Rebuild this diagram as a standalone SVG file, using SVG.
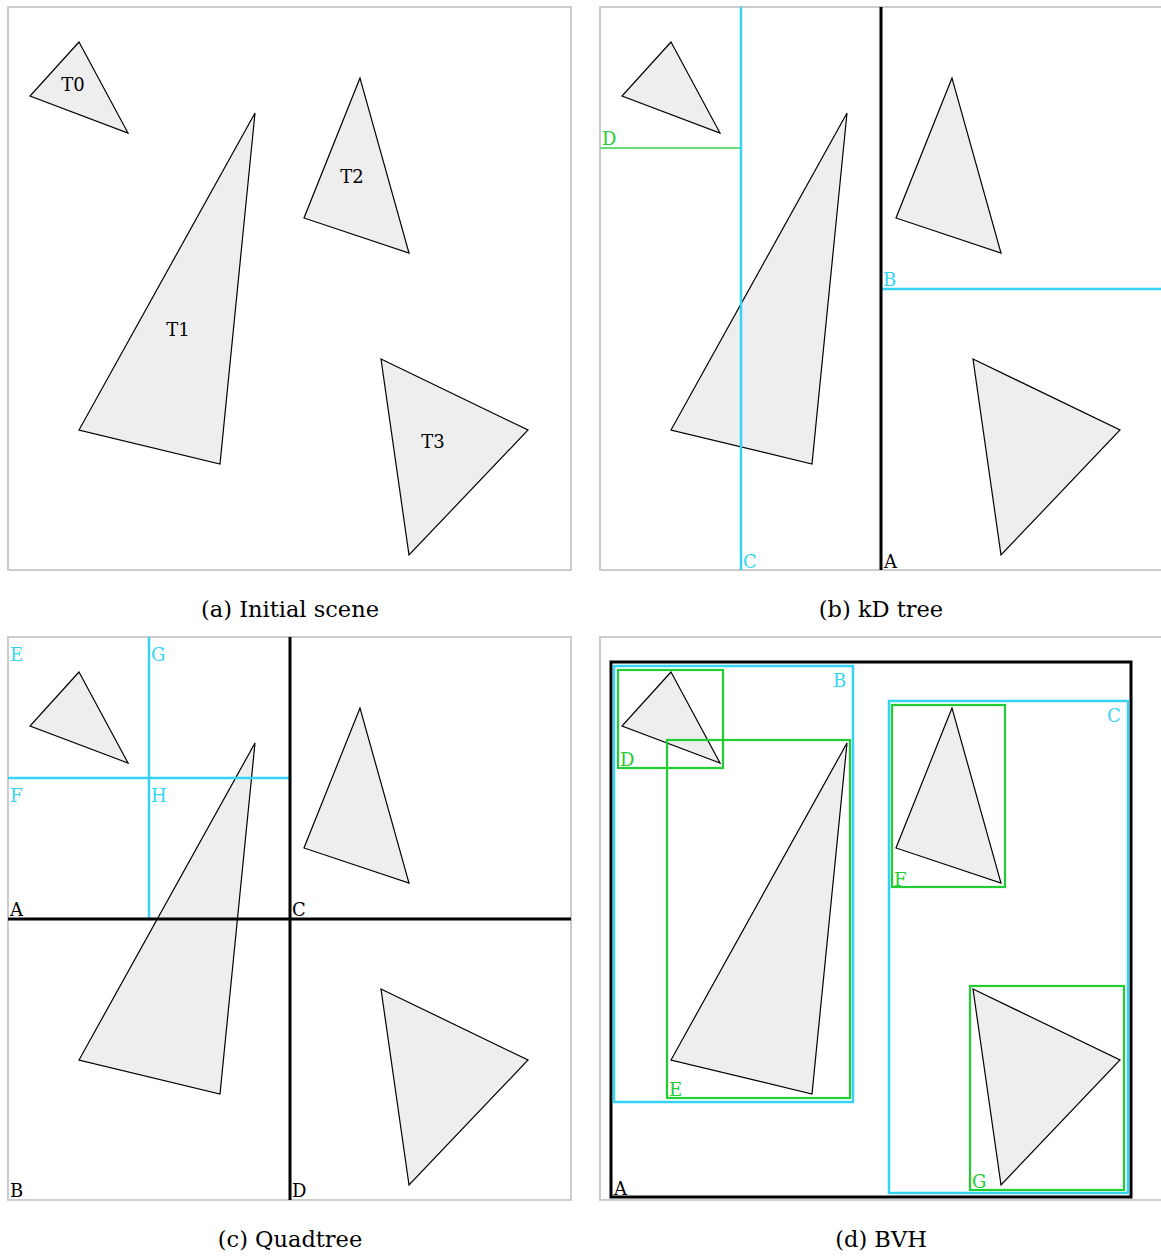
<svg xmlns="http://www.w3.org/2000/svg" width="1161" height="1258" viewBox="0 0 1161 1258">
<style>
.frame{fill:#fff;stroke:#cccccc;stroke-width:2}
.tri{fill:#eeeeee;stroke:#000;stroke-width:1.2;stroke-linejoin:miter}
.blk{stroke:#000;stroke-width:3;fill:none}
.cyn{stroke:#33d4f5;stroke-width:2.5;fill:none}
.grn{stroke:#22cc33;stroke-width:2.2;fill:none}
.lgrn{stroke:#66dd77;stroke-width:2;fill:none}
text{font-family:"DejaVu Serif","Liberation Serif",serif}
.tl{text-anchor:middle}
.lb{font-size:18px}
.lc{fill:#33d4f5}
.lg{fill:#22cc33}
.cap{text-anchor:middle}
</style>
<defs>
<g id="tris">
<polygon class="tri" points="79,42 30,96 128,133"/>
<polygon class="tri" points="255,113 79,430 220,464"/>
<polygon class="tri" points="360,78 304,218 409,253"/>
<polygon class="tri" points="381,359 528,430 409,555"/>
</g>
</defs>
<g id="panel-a">
<rect class="frame" x="8" y="7" width="563" height="563"/>
<use href="#tris"/>
<text class="tl" x="73" y="91" font-size="18">T0</text>
<text class="tl" x="178" y="336" font-size="18">T1</text>
<text class="tl" x="352" y="183" font-size="18">T2</text>
<text class="tl" x="433" y="448" font-size="18">T3</text>
<text class="cap" x="290" y="617" font-size="22.5">(a) Initial scene</text>
</g>
<g id="panel-b">
<rect class="frame" x="600" y="7" width="563" height="563"/>
<use href="#tris" transform="translate(592,0)"/>
<g id="kd-lines">
<line class="lgrn" x1="600" y1="148" x2="741" y2="148"/>
<line class="cyn" x1="741" y1="7" x2="741" y2="570"/>
<line class="cyn" x1="881" y1="289" x2="1163" y2="289"/>
<line class="blk" x1="881" y1="7" x2="881" y2="570"/>
</g>
<text class="lb lg" x="602" y="145" font-size="18">D</text>
<text class="lb lc" x="883" y="286" font-size="18">B</text>
<text class="lb lc" x="743" y="568" font-size="18">C</text>
<text class="lb" x="884" y="568" font-size="18">A</text>
<text class="cap" x="881" y="617" font-size="22.5">(b) kD tree</text>
</g>
<g id="panel-c">
<rect class="frame" x="8" y="637" width="563" height="563"/>
<use href="#tris" transform="translate(0,630)"/>
<g id="quad-lines">
<line class="cyn" x1="149" y1="637" x2="149" y2="919"/>
<line class="cyn" x1="8" y1="778" x2="290" y2="778"/>
<line class="blk" x1="290" y1="637" x2="290" y2="1200"/>
<line class="blk" x1="8" y1="919" x2="571" y2="919"/>
</g>
<text class="lb lc" x="10" y="661" font-size="18">E</text>
<text class="lb lc" x="151" y="661" font-size="18">G</text>
<text class="lb lc" x="10" y="802" font-size="18">F</text>
<text class="lb lc" x="151" y="802" font-size="18">H</text>
<text class="lb" x="10" y="916" font-size="18">A</text>
<text class="lb" x="292" y="916" font-size="18">C</text>
<text class="lb" x="10" y="1197" font-size="18">B</text>
<text class="lb" x="292" y="1197" font-size="18">D</text>
<text class="cap" x="290" y="1247" font-size="22.5">(c) Quadtree</text>
</g>
<g id="panel-d">
<rect class="frame" x="600" y="637" width="563" height="563"/>
<use href="#tris" transform="translate(592,630)"/>
<g id="bvh-boxes">
<rect class="blk" x="611" y="662" width="520" height="535"/>
<rect class="cyn" x="614" y="666" width="239" height="436"/>
<rect class="cyn" x="889" y="701" width="239" height="492"/>
<rect class="grn" x="618" y="670" width="105" height="98"/>
<rect class="grn" x="667" y="740" width="183" height="358"/>
<rect class="grn" x="892" y="705" width="113" height="182"/>
<rect class="grn" x="970" y="986" width="154" height="204"/>
</g>
<text class="lb lc" x="833" y="687" font-size="18">B</text>
<text class="lb lc" x="1107" y="722" font-size="18">C</text>
<text class="lb lg" x="620" y="766" font-size="18">D</text>
<text class="lb lg" x="669" y="1096" font-size="18">E</text>
<text class="lb lg" x="894" y="886" font-size="18">F</text>
<text class="lb lg" x="972" y="1188" font-size="18">G</text>
<text class="lb" x="614" y="1195" font-size="18">A</text>
<text class="cap" x="881" y="1247" font-size="22.5">(d) BVH</text>
</g>
</svg>
